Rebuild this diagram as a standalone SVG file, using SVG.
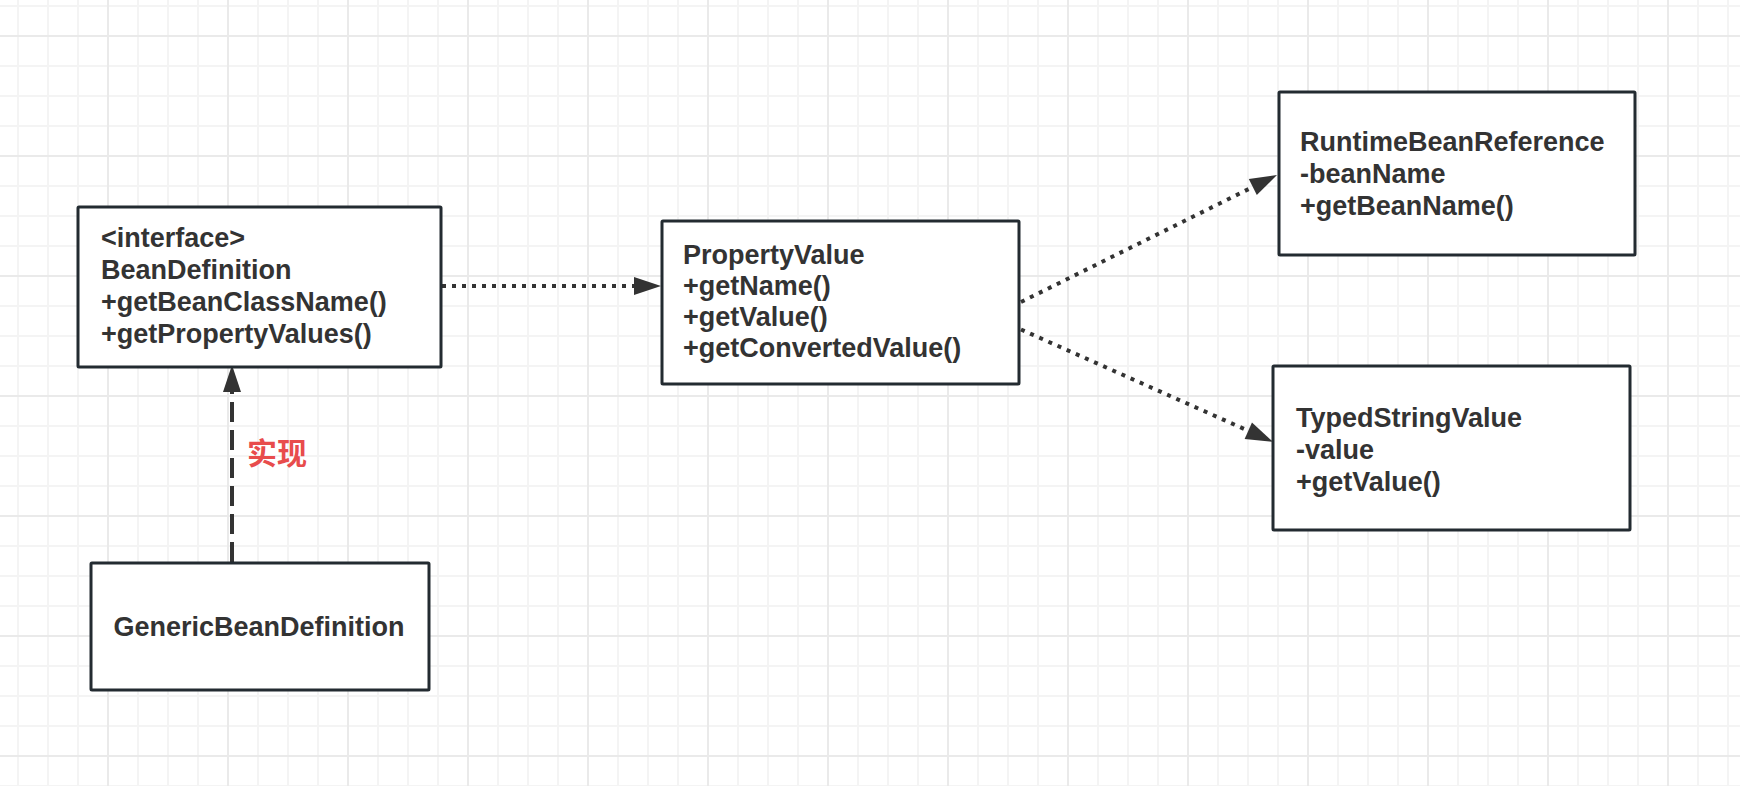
<svg xmlns="http://www.w3.org/2000/svg" width="1740" height="786" viewBox="0 0 1740 786">
<style>
.box{fill:#ffffff;stroke:#232b31;stroke-width:3}
.t{font-family:"Liberation Sans",Arial,sans-serif;font-weight:bold;font-size:27px;fill:#333333}
.dot{fill:none;stroke:#333333;stroke-width:4;stroke-dasharray:4 6}
.dash{fill:none;stroke:#333333;stroke-width:4;stroke-dasharray:20 8}
.lbl{font-family:"Noto Sans CJK SC","Noto Sans CJK JP",sans-serif;font-weight:bold;font-size:30px;fill:#e84c4c}
</style>
<defs>
<pattern id="grid" patternUnits="userSpaceOnUse" x="3" y="-9" width="120" height="120">
<g fill="#f4f4f4">
<rect x="14" y="0" width="2" height="120"/>
<rect x="44" y="0" width="2" height="120"/>
<rect x="74" y="0" width="2" height="120"/>
<rect x="0" y="14" width="120" height="2"/>
<rect x="0" y="74" width="120" height="2"/>
<rect x="0" y="104" width="120" height="2"/>
</g>
<g fill="#eaeaea">
<rect x="104" y="0" width="2" height="120"/>
<rect x="0" y="44" width="120" height="2"/>
</g>
</pattern>
<marker id="arr" markerUnits="userSpaceOnUse" markerWidth="27" markerHeight="18" refX="0" refY="9" orient="auto" overflow="visible">
<path d="M0,0 L27,9 L0,18 Z" fill="#333333"/>
</marker>
</defs>
<rect width="1740" height="786" fill="#ffffff"/>
<rect width="1740" height="786" fill="url(#grid)"/>

<g id="connectors">
<path class="dot" d="M442,286 L634,286" marker-end="url(#arr)"/>
<path class="dot" d="M1021,302 L1252.8,187" marker-end="url(#arr)"/>
<path class="dot" d="M1021,329.5 L1248.3,430.8" marker-end="url(#arr)"/>
<path class="dash" d="M232,562 L232,392" marker-end="url(#arr)"/>
<text class="lbl" x="247" y="464">实现</text>
</g>

<g id="node-beandefinition">
<rect class="box" x="78" y="207" width="363" height="160" rx="1"/>
<text class="t" x="101" y="247">&lt;interface&gt;</text>
<text class="t" x="101" y="279">BeanDefinition</text>
<text class="t" x="101" y="311">+getBeanClassName()</text>
<text class="t" x="101" y="343">+getPropertyValues()</text>
</g>

<g id="node-genericbeandefinition">
<rect class="box" x="91" y="563" width="338" height="127" rx="1"/>
<text class="t" x="259" y="636" text-anchor="middle">GenericBeanDefinition</text>
</g>

<g id="node-propertyvalue">
<rect class="box" x="662" y="221" width="357" height="163" rx="1"/>
<text class="t" x="683" y="264">PropertyValue</text>
<text class="t" x="683" y="295">+getName()</text>
<text class="t" x="683" y="326">+getValue()</text>
<text class="t" x="683" y="357">+getConvertedValue()</text>
</g>

<g id="node-runtimebeanreference">
<rect class="box" x="1279" y="92" width="356" height="163" rx="1"/>
<text class="t" x="1300" y="151">RuntimeBeanReference</text>
<text class="t" x="1300" y="183">-beanName</text>
<text class="t" x="1300" y="215">+getBeanName()</text>
</g>

<g id="node-typedstringvalue">
<rect class="box" x="1273" y="366" width="357" height="164" rx="1"/>
<text class="t" x="1296" y="427">TypedStringValue</text>
<text class="t" x="1296" y="459">-value</text>
<text class="t" x="1296" y="491">+getValue()</text>
</g>
</svg>
